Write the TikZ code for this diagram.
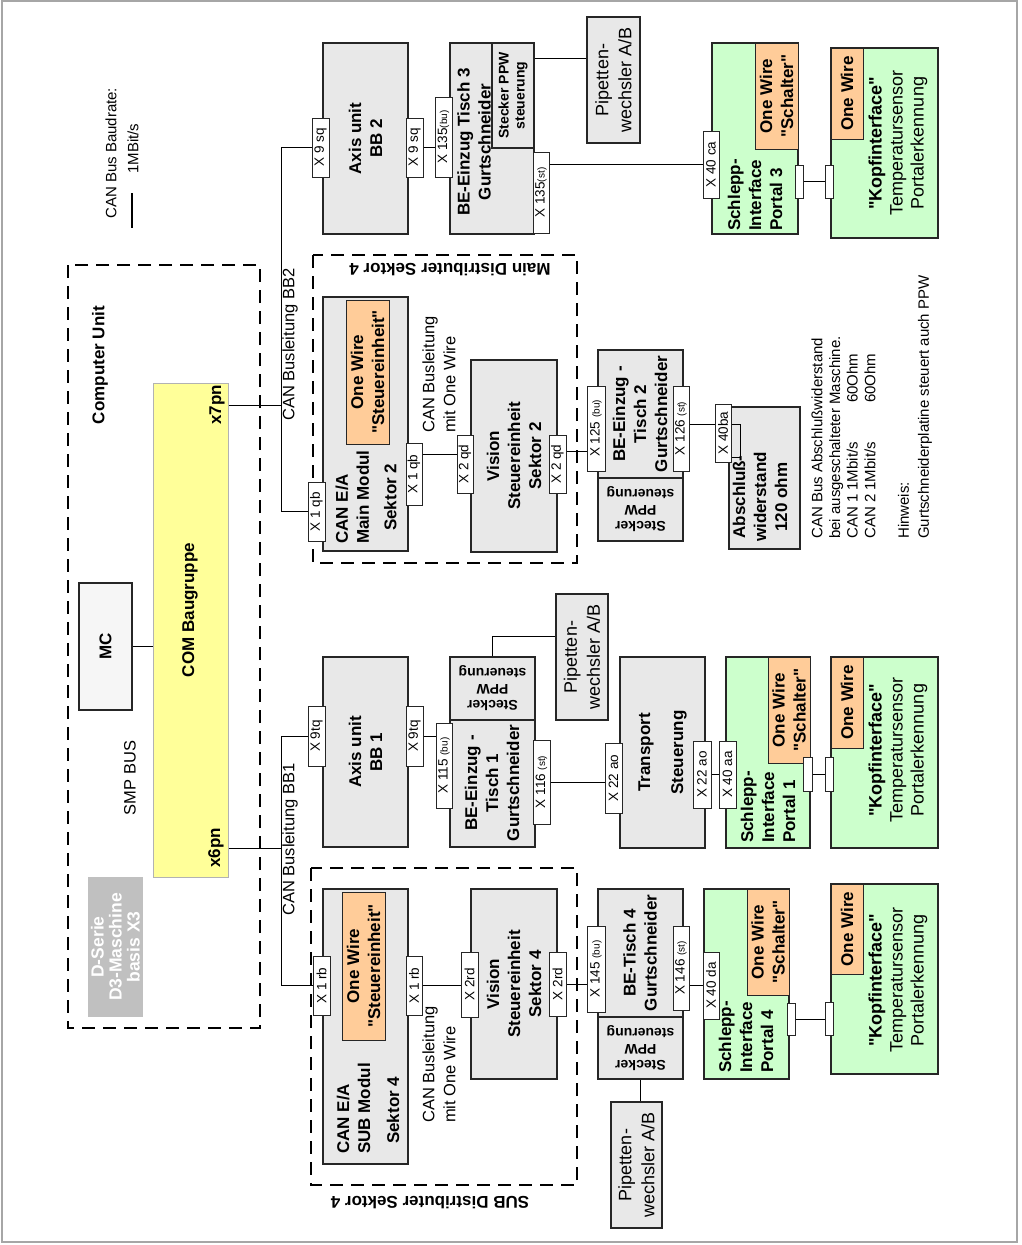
\documentclass[tikz,border=0pt]{standalone}
\usepackage{fontspec}
\setmainfont{Liberation Sans}[Ligatures=TeXOff]
\usetikzlibrary{positioning}
\definecolor{boxgray}{HTML}{E8E8E8}
\definecolor{boxgreen}{HTML}{CCFFCC}
\definecolor{boxorange}{HTML}{FFCC99}
\definecolor{comyellow}{HTML}{FFFF99}
\definecolor{mcwhite}{HTML}{F6F6F6}
\definecolor{dgray}{HTML}{C0C0C0}
\newcommand{\boxtxt}{\fontsize{17}{21}\selectfont\bfseries}
\newcommand{\bustxt}{\fontsize{16.5}{21}\selectfont}
\newcommand{\notetxt}{\fontsize{15}{17.7}\selectfont}
\newcommand{\porttxt}{\fontsize{13.5}{15}\selectfont}
\newcommand{\ptsub}{\fontsize{10}{11}\selectfont}
\newcommand{\piptxt}{\fontsize{18}{23}\selectfont}
\newcommand{\sttxt}{\fontsize{14}{16}\selectfont\bfseries}
\newcommand{\kopftxt}{\fontsize{18}{21}\selectfont}

\begin{document}
\begin{tikzpicture}[x=1pt, y=-1pt,
  wire/.style={line width=1pt},
  plainbox/.style={draw=black!85, line width=1.4pt, fill=boxgray, inner sep=0,
                   align=center, font=\boxtxt},
  graybox/.style={plainbox, rotate=90},
  stbox/.style={plainbox, rotate=180, font=\sttxt},
  greenbox/.style={graybox, fill=boxgreen},
  orangebox/.style={graybox, fill=boxorange, line width=1pt},
  port/.style={draw=black!85, line width=1pt, fill=white, rotate=90, inner sep=0,
               minimum height=17, font=\porttxt},
  plug/.style={draw=black!85, line width=1pt, fill=white, rotate=90, inner sep=0,
               minimum width=33, minimum height=8},
  dashbox/.style={draw, line width=1.2pt, dash pattern=on 13pt off 8pt, rotate=90, inner sep=0},
  txt/.style={rotate=90, inner sep=0, align=left},
  upside/.style={rotate=180, inner sep=0, align=center}]

\useasboundingbox (0,0) rectangle (1022,1245);
\draw[gray!70, line width=1.5pt] (2,1) rectangle (1017,1242);

\node[txt, anchor=west, font=\notetxt] (baud) at (111,219) {CAN Bus Baudrate:};
\coordinate (lg1) at (132,193);
\coordinate (lg2) at (132,228);
\draw[line width=2pt] (lg1) -- (lg2);
\node[txt, anchor=west, font=\notetxt] (rate) at (133,174) {1MBit/s};

\node[dashbox, minimum width=763, minimum height=192] (cu) at (164,646.5) {};
\node[txt, font=\boxtxt] (cutitle) at (100,365) {Computer Unit};
\node[graybox, fill=mcwhite, minimum width=127, minimum height=53] (mc) at (105.5,646.5) {MC};
\node[graybox, fill=comyellow, draw=gray!60, line width=1pt, minimum width=494, minimum height=75] (com) at (190.5,630) {};
\node[txt, font=\boxtxt] (comtxt) at (190,610) {COM Baugruppe};
\node[txt, font=\boxtxt] (x7pn) at (217,405) {x7pn};
\node[txt, font=\boxtxt] (x6pn) at (216,848) {x6pn};
\node[txt, font=\bustxt] (smp) at (130,778) {SMP BUS};
\node[graybox, fill=dgray, draw=none, text=white, minimum width=140, minimum height=55,
      font=\fontsize{17.5}{18}\selectfont\bfseries] (dserie) at (115.5,947) {D-Serie\\D3-Maschine\\basis X3};
\draw[wire] (mc.south) -- (mc.south -| com.north);

\node[graybox, minimum width=191, minimum height=85] (ax2) at (365.5,138.5) {Axis unit\\BB 2};
\node[port, minimum width=59] (ax2l) at (320.5,147.5) {X 9 sq};
\node[port, minimum width=59] (ax2r) at (414.5,147.5) {X 9 sq};
\node[graybox, minimum width=191, minimum height=84] (t3) at (492,138.5) {};
\node[graybox, minimum width=105, minimum height=42, font=\sttxt] (st3) at (513,95.5) {Stecker PPW\\steuerung};
\node[txt, align=center, font=\boxtxt] (t3txt) at (474,142) {BE-Einzug Tisch 3\\Gurtschneider};
\node[port, minimum width=80] (x135bu) at (443.5,137) {X 135{\ptsub(bu)}};
\node[port, minimum width=81, minimum height=16] (x135st) at (541,192.5) {X 135{\ptsub(st)}};
\node[graybox, font=\piptxt, minimum width=126, minimum height=53] (pip3) at (613.5,80) {Pipetten-\\wechsler A/B};
\coordinate (lp3) at (560,58);
\draw[wire] (st3.south |- lp3) -- (pip3.north |- lp3);
\draw[wire] (ax2r.south) -- (ax2r.south -| x135bu.north);
\node[greenbox, minimum width=191, minimum height=86] (sch3) at (755,138.5) {};
\node[orangebox, minimum width=106, minimum height=43] (sw3) at (776.5,96) {One Wire\\"Schalter"};
\node[txt, anchor=west, font=\boxtxt] (sch3txt) at (755,231) {Schlepp-\\Interface\\Portal 3};
\node[port, minimum width=67, minimum height=16] (x40ca) at (711,164.5) {X 40 ca};
\draw[wire] (x135st.south |- x40ca) -- (x40ca.north);
\node[greenbox, minimum width=190, minimum height=107] (kopf3) at (884.5,143) {};
\node[orangebox, minimum width=91, minimum height=32] (kw3) at (847,93.5) {One Wire};
\node[txt, align=center, font=\kopftxt] (kopf3txt) at (898,143) {\textbf{"Kopfinterface"}\\Temperatursensor\\Portalerkennung};
\node[plug] (p3a) at (799.5,181.5) {};
\node[plug] (p3b) at (829.5,181.5) {};
\draw[wire] (p3a.south) -- (p3b.north);

\node[dashbox, minimum width=308, minimum height=264] (maind) at (445,409) {};
\node[upside, font=\boxtxt] (maintitle) at (450,270) {Main Distributer Sektor 4};
\node[graybox, minimum width=254, minimum height=85] (canmain) at (365.5,424) {};
\node[orangebox, minimum width=144, minimum height=43] (ow2) at (367.5,372) {One Wire\\"Steuereinheit"};
\node[txt, anchor=west, font=\boxtxt] (canmaintxt) at (366,544) {CAN E/A\\Main Modul\\[6.5pt]\hspace*{13pt}Sektor 2};
\node[port, minimum width=59] (x1qbl) at (316.5,511.5) {X 1 qb};
\node[port, minimum width=62, minimum height=16] (x1qbr) at (414,474) {X 1 qb};
\node[txt, anchor=west, font=\bustxt] (owtxt2) at (439,433) {CAN Busleitung\\mit One Wire};
\node[graybox, minimum width=192, minimum height=86] (vis2) at (514,456) {Vision\\Steuereinheit\\Sektor 2};
\node[port, minimum width=58, minimum height=16] (x2qdl) at (465,464) {X 2 qd};
\node[port, minimum width=58] (x2qdr) at (557.5,464) {X 2 qd};
\coordinate (l2) at (440,454);
\draw[wire] (x1qbr.south |- l2) -- (x2qdl.north |- l2);

\node[graybox, minimum width=190, minimum height=85] (t2) at (640.5,445) {};
\node[txt, align=center, font=\boxtxt] (t2txt) at (640,414) {BE-Einzug -\\Tisch 2\\Gurtschneider};
\node[stbox, minimum width=85, minimum height=63] (st2) at (640.5,509.5) {Stecker\\PPW\\steuerung};
\node[port, minimum width=85, minimum height=18] (x125) at (596,428.5) {X 125 {\ptsub(bu)}};
\node[port, minimum width=85, minimum height=16] (x126) at (681,428.5) {X 126 {\ptsub(st)}};
\coordinate (l125) at (575,451);
\draw[wire] (x2qdr.south |- l125) -- (x125.north |- l125);

\node[graybox, minimum width=142, minimum height=71] (absch) at (764.5,478) {};
\node[txt, align=center, font=\boxtxt] (abschtxt) at (760,497) {Abschluß-\\widerstand\\120 ohm};
\node[port, minimum width=58, minimum height=16] (x40ba) at (723,433) {X 40ba};
\coordinate (lba) at (700,424);
\draw[wire] (x126.south |- lba) -- (x40ba.north |- lba);
\draw[wire] (x40ba.south |- lba) -| ++(9,33) -- ++(-9,0);

\node[txt, anchor=west, font=\notetxt] (note) at (843.5,539) {CAN Bus Abschlußwiderstand\\bei ausgeschalteter Maschine.\\\makebox[136pt][l]{CAN 1 1Mbit/s}60Ohm\\\makebox[136pt][l]{CAN 2 1Mbit/s}60Ohm};
\node[txt, anchor=west, font=\fontsize{15}{20}\selectfont] (hint) at (915,539) {Hinweis:\\Gurtschneiderplatine steuert auch PPW};

\node[graybox, minimum width=190, minimum height=85] (ax1) at (365.5,752) {Axis unit\\BB 1};
\node[port, minimum width=60] (x9tql) at (316.5,736) {X 9tq};
\node[port, minimum width=60] (x9tqr) at (414.5,736) {X 9tq};
\node[graybox, minimum width=190, minimum height=85] (t1) at (492.5,752) {};
\node[stbox, minimum width=85, minimum height=63] (st1) at (492.5,688.5) {Stecker\\PPW\\steuerung};
\node[txt, align=center, font=\boxtxt] (t1txt) at (492,783) {BE-Einzug -\\Tisch 1\\Gurtschneider};
\node[port, minimum width=85, minimum height=16] (x115) at (444,765.5) {X 115 {\ptsub(bu)}};
\node[port, minimum width=84] (x116) at (541.5,782) {X 116 {\ptsub(st)}};
\draw[wire] (x9tqr.south) -- (x9tqr.south -| x115.north);
\node[graybox, font=\piptxt, minimum width=126, minimum height=52] (pip1) at (582,657) {Pipetten-\\wechsler A/B};
\coordinate (lp1) at (520,636);
\draw[wire] (st1.south) |- (pip1.north |- lp1);

\node[graybox, minimum width=191, minimum height=85] (trans) at (662.5,752.5) {Transport\\[12pt]Steuerung};
\node[port, minimum width=70] (x22l) at (613.5,778) {X 22 ao};
\draw[wire] (x116.south) -- (x116.south -| x22l.north);
\node[greenbox, minimum width=191, minimum height=84] (sch1) at (768,752.5) {};
\node[orangebox, minimum width=106, minimum height=42] (sw1) at (789,710) {One Wire\\"Schalter"};
\node[txt, anchor=west, font=\boxtxt] (sch1txt) at (768,843) {Schlepp-\\Interface\\Portal 1};
\node[port, minimum width=67, minimum height=18] (x22r) at (702,774.5) {X 22 ao};
\node[port, minimum width=67] (x40aa) at (727.5,774.5) {X 40 aa};
\draw[wire] (x22r.south) -- (x40aa.north);
\node[greenbox, minimum width=191, minimum height=107] (kopf1) at (884.5,752.5) {};
\node[orangebox, minimum width=91, minimum height=32] (kw1) at (847,702.5) {One Wire};
\node[txt, align=center, font=\kopftxt] (kopf1txt) at (898,750) {\textbf{"Kopfinterface"}\\Temperatursensor\\Portalerkennung};
\node[plug, minimum width=34, minimum height=9] (p1a) at (807.5,774) {};
\node[plug, minimum width=34] (p1b) at (829,774) {};
\draw[wire] (p1a.south) -- (p1b.north);

\node[dashbox, minimum width=317, minimum height=266] (subd) at (444,1026.5) {};
\node[upside, font=\boxtxt] (subtitle) at (430,1203) {SUB Distributer Sektor 4};
\node[graybox, minimum width=275, minimum height=85] (cansub) at (365.5,1026.5) {};
\node[orangebox, minimum width=148, minimum height=43] (ow4) at (363.5,966) {One Wire\\"Steuereinheit"};
\node[txt, anchor=west, font=\boxtxt] (cansubtxt) at (368,1154) {CAN E/A\\SUB Modul\\[8pt]\hspace*{10pt}Sektor 4};
\node[port, minimum width=59] (x1rbl) at (321.5,985.5) {X 1 rb};
\node[port, minimum width=59, minimum height=16] (x1rbr) at (414,985.5) {X 1 rb};
\node[txt, anchor=west, font=\bustxt] (owtxt4) at (439,1123) {CAN Busleitung\\mit One Wire};
\node[graybox, minimum width=190, minimum height=86] (vis4) at (514,984) {Vision\\Steuereinheit\\Sektor 4};
\node[port, minimum width=65] (x2rdl) at (469.5,984.5) {X 2rd};
\node[port, minimum width=64] (x2rdr) at (557.5,984) {X 2rd};
\draw[wire] (x1rbr.south) -- (x1rbr.south -| x2rdl.north);

\node[graybox, minimum width=190, minimum height=85] (t4) at (640.5,984) {};
\node[stbox, minimum width=85, minimum height=62] (st4) at (640.5,1048) {Stecker\\PPW\\steuerung};
\node[txt, align=center, font=\boxtxt] (t4txt) at (640,953) {BE-Tisch 4\\Gurtschneider};
\node[port, minimum width=86, minimum height=18] (x145) at (596,969) {X 145 {\ptsub(bu)}};
\node[port, minimum width=84, minimum height=16] (x146) at (681,968) {X 146 {\ptsub(st)}};
\draw[wire] (x2rdr.south) -- (x2rdr.south -| x145.north);
\node[graybox, font=\piptxt, minimum width=126, minimum height=51] (pip4) at (636.5,1165) {Pipetten-\\wechsler A/B};
\draw[wire] (st4.north) -- (st4.north |- pip4.east);
\node[greenbox, minimum width=190, minimum height=85] (sch4) at (746.5,984) {};
\node[orangebox, minimum width=106, minimum height=42] (sw4) at (768,942) {One Wire\\"Schalter"};
\node[txt, anchor=west, font=\boxtxt] (sch4txt) at (746,1073) {Schlepp-\\Interface\\Portal 4};
\node[port, minimum width=67, minimum height=16] (x40da) at (711,985.5) {X 40 da};
\draw[wire] (x146.south |- x40da) -- (x40da.north);
\node[greenbox, minimum width=190, minimum height=107] (kopf4) at (884.5,979) {};
\node[orangebox, minimum width=90, minimum height=32] (kw4) at (847,929) {One Wire};
\node[txt, align=center, font=\kopftxt] (kopf4txt) at (898,980) {\textbf{"Kopfinterface"}\\Temperatursensor\\Portalerkennung};
\node[plug, minimum width=32] (p4a) at (791,1019) {};
\node[plug] (p4b) at (829.5,1019) {};
\draw[wire] (p4a.south) -- (p4b.north);

\coordinate (bb2) at (281,405);
\coordinate (bb1) at (281,848);
\draw[wire] (com.south |- x7pn) -- (bb2);
\draw[wire] (com.south |- x6pn) -- (bb1);
\draw[wire] (ax2l.north) -- (ax2l.north -| bb2) -- (x1qbl.north -| bb2) -- (x1qbl.north);
\draw[wire] (x9tql.north) -- (x9tql.north -| bb1) -- (x1rbl.north -| bb1) -- (x1rbl.north);
\node[txt, anchor=west, font=\bustxt] (bb2txt) at (290,421) {CAN Busleitung BB2};
\node[txt, anchor=west, font=\bustxt] (bb1txt) at (290,916) {CAN Busleitung BB1};
\end{tikzpicture}
\end{document}
